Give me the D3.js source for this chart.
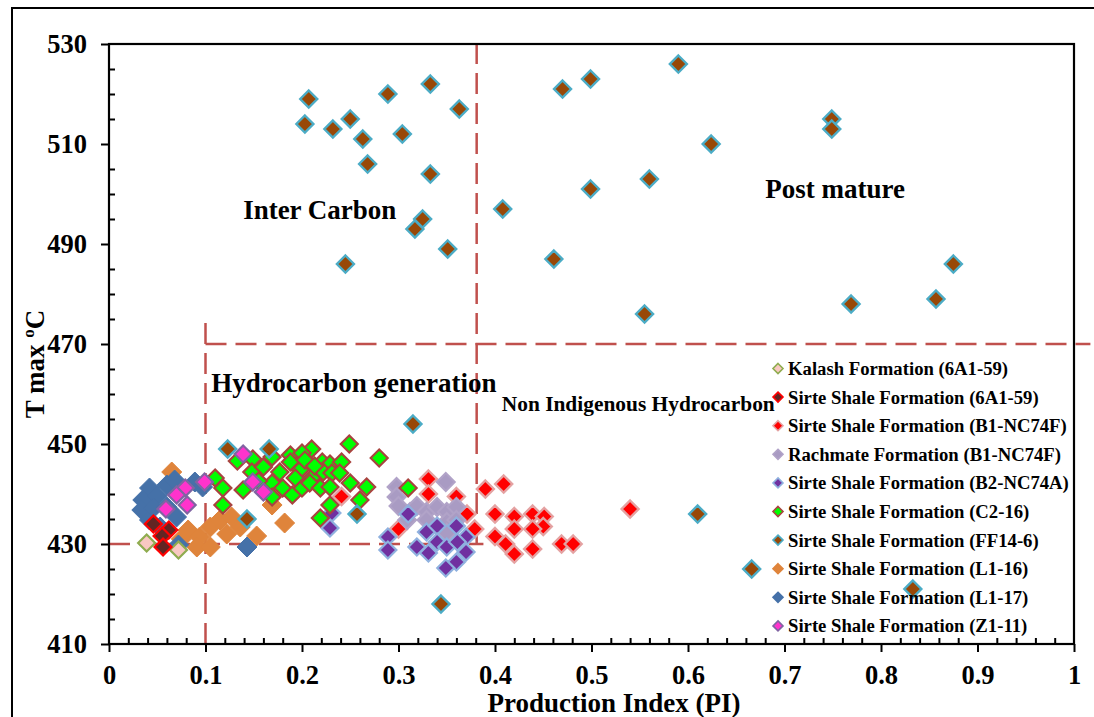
<!DOCTYPE html>
<html>
<head>
<meta charset="utf-8">
<script src="https://cdn.jsdelivr.net/npm/d3@7"></script>
<style>
  html, body { margin: 0; padding: 0; background: #ffffff; }
  svg { display: block; }
  text { font-family: "Liberation Serif", "Times New Roman", serif; font-weight: bold; fill: #000; }
</style>
</head>
<body>
<svg id="chart" width="1094" height="717"></svg>
<script>
// Rock-Eval pyrolysis: Production Index (PI) versus Tmax, by formation and well

// Axis ticks
const xMajorTicks = [0, 0.1, 0.2, 0.3, 0.4, 0.5, 0.6, 0.7, 0.8, 0.9, 1];
const yMajorTicks = [410, 430, 450, 470, 490, 510, 530];

// Samples: [PI, Tmax °C]
const kalash6A1 = [[0.039, 430.2], [0.072, 428.8]];
const sirte6A1 = [[0.046, 434.0], [0.062, 432.8], [0.055, 431.6], [0.056, 429.4]];
const sirteB1 = [
  [0.331, 443], [0.331, 440], [0.360, 439.5], [0.371, 436], [0.300, 433], [0.379, 433],
  [0.390, 441], [0.409, 442], [0.400, 436], [0.420, 435.5], [0.439, 436], [0.451, 435.5],
  [0.450, 433.5], [0.420, 433], [0.439, 433], [0.400, 431.5], [0.411, 430], [0.420, 428],
  [0.439, 429], [0.469, 430], [0.481, 430], [0.241, 439.5], [0.540, 437]
];
const rachmateB1 = [
  [0.349, 442.4], [0.298, 441.4], [0.298, 439.4], [0.300, 437.6], [0.312, 436.4], [0.319, 437.6],
  [0.329, 436.4], [0.340, 437.4], [0.350, 436.4], [0.360, 437.4], [0.329, 434.8], [0.350, 434.4],
  [0.360, 434.8], [0.309, 434.8], [0.350, 432.2]
];
const sirteB2 = [
  [0.310, 436], [0.289, 431.4], [0.289, 428.8], [0.319, 429.4], [0.331, 428.2], [0.329, 432.4],
  [0.340, 433.6], [0.340, 430.4], [0.350, 429.4], [0.360, 433.6], [0.370, 431.4], [0.370, 428.4],
  [0.360, 426.4], [0.349, 425.2], [0.361, 430.4], [0.231, 436.2], [0.229, 433.2]
];
const sirteC2 = [
  [0.249, 450], [0.210, 449], [0.149, 447], [0.169, 447.4], [0.188, 447.8], [0.200, 448.2],
  [0.221, 446.4], [0.229, 446], [0.241, 446.4], [0.148, 444.4], [0.160, 445.4], [0.177, 444.4],
  [0.188, 446.4], [0.198, 444.8], [0.210, 443.2], [0.222, 444.4], [0.231, 444.2], [0.239, 444.2],
  [0.250, 442.2], [0.110, 443.2], [0.118, 441.2], [0.139, 440.8], [0.169, 442.2], [0.180, 441.2],
  [0.190, 439.8], [0.200, 441.2], [0.208, 442.2], [0.219, 441.2], [0.229, 441.4], [0.229, 437.8],
  [0.169, 439.4], [0.118, 437.8], [0.219, 435.2], [0.260, 438.8], [0.267, 441.4], [0.280, 447.2],
  [0.310, 441.2], [0.203, 446.8], [0.213, 445.6], [0.193, 443.2], [0.155, 442.6], [0.133, 446.6]
];
const sirteFF14 = [
  [0.207, 519], [0.203, 514], [0.232, 513], [0.250, 515], [0.263, 511], [0.268, 506],
  [0.289, 520], [0.304, 512], [0.333, 522], [0.363, 517], [0.333, 504], [0.325, 495],
  [0.317, 493], [0.351, 489], [0.245, 486], [0.408, 497], [0.470, 521], [0.499, 523],
  [0.590, 526], [0.624, 510], [0.749, 515], [0.749, 513], [0.499, 501], [0.560, 503],
  [0.461, 487], [0.555, 476], [0.769, 478], [0.857, 479], [0.875, 486], [0.610, 436],
  [0.666, 425], [0.833, 421], [0.315, 454], [0.344, 418], [0.123, 449], [0.166, 449],
  [0.143, 435], [0.257, 436]
];
const sirteL116 = [
  [0.065, 444.4], [0.082, 432.8], [0.094, 431.4], [0.105, 433.4], [0.115, 434.8], [0.127, 435.4],
  [0.136, 433.4], [0.091, 429.4], [0.105, 429.4], [0.153, 431.6], [0.169, 437.8], [0.182, 434.2],
  [0.122, 432.0], [0.075, 431.0]
];
const sirteL117 = [
  [0.042, 441.2], [0.035, 438.8], [0.034, 436.8], [0.050, 439.6], [0.060, 441.8], [0.068, 442.8],
  [0.089, 442.4], [0.042, 434.8], [0.053, 433.4], [0.070, 435.4], [0.072, 429.8], [0.143, 429.4],
  [0.097, 441.4], [0.046, 437.2], [0.060, 437.4]
];
const sirteZ111 = [
  [0.079, 441.2], [0.070, 439.8], [0.081, 437.8], [0.059, 437], [0.099, 442.4], [0.139, 448],
  [0.149, 442.4], [0.160, 440.4]
];

// Legend entries, in legend order
const seriesNames = [
  "Kalash Formation (6A1-59)",
  "Sirte Shale Formation (6A1-59)",
  "Sirte Shale Formation (B1-NC74F)",
  "Rachmate Formation (B1-NC74F)",
  "Sirte Shale Formation (B2-NC74A)",
  "Sirte Shale Formation (C2-16)",
  "Sirte Shale Formation (FF14-6)",
  "Sirte Shale Formation (L1-16)",
  "Sirte Shale Formation (L1-17)",
  "Sirte Shale Formation (Z1-11)"
];
const seriesData = [kalash6A1, sirte6A1, sirteB1, rachmateB1, sirteB2, sirteC2, sirteFF14, sirteL116, sirteL117, sirteZ111];

// Zone boundaries: [x1, y1, x2, y2] in data units
const zoneLines = [
  [0.1, 410, 0.1, 474.5],
  [0.1, 470, 1.017, 470],
  [0, 430, 0.388, 430],
  [0.381, 430, 0.381, 530]
];
const zoneLabels = [
  { text: "Inter Carbon", x: 0.139, y: 495.0, size: 27 },
  { text: "Post mature", x: 0.680, y: 499.2, size: 27 },
  { text: "Hydrocarbon generation", x: 0.106, y: 460.4, size: 27 },
  { text: "Non Indigenous Hydrocarbon", x: 0.407, y: 456.6, size: 21.4 }
];

// Marker styling per series (same order as seriesNames)
const styles = [
  { fill: "#f9c8c2", stroke: "#8fac4f", r: 8.5, sw: 2.2 },
  { fill: "#632523", stroke: "#ff0000", r: 8.5, sw: 2.2 },
  { fill: "#ff0000", stroke: "#e4a2a2", r: 8.5, sw: 2.4 },
  { fill: "#a99bc3", stroke: "#b1a3c8", r: 9, sw: 2 },
  { fill: "#7030a0", stroke: "#8fb1df", r: 8.5, sw: 2.2 },
  { fill: "#00ff00", stroke: "#a8443f", r: 8.5, sw: 2.2 },
  { fill: "#984807", stroke: "#4bacc6", r: 8.5, sw: 2.4 },
  { fill: "#df843b", stroke: "#df843b", r: 10, sw: 1 },
  { fill: "#4571a8", stroke: "#4571a8", r: 10, sw: 1 },
  { fill: "#ff33cc", stroke: "#8064a2", r: 8.5, sw: 2.2 }
];
// Drawing order: the two L1 wells sit underneath the rest
const drawOrder = [7, 8, 0, 1, 2, 3, 4, 5, 6, 9];

const svg = d3.select("#chart");
const x = d3.scaleLinear().domain([0, 1]).range([109, 1074]);
const y = d3.scaleLinear().domain([410, 530]).range([644, 44]);

const diamond = r => `M0,${-r}L${r},0L0,${r}L${-r},0Z`;

// Outer chart frame
svg.append("rect")
  .attr("x", 12).attr("y", 8).attr("width", 1200).attr("height", 800)
  .attr("fill", "none").attr("stroke", "#000").attr("stroke-width", 2);

// Zone boundary lines
svg.append("g").selectAll("line").data(zoneLines).join("line")
  .attr("x1", d => x(d[0])).attr("y1", d => y(d[1]))
  .attr("x2", d => x(d[2])).attr("y2", d => y(d[3]))
  .attr("stroke", "#c0504d").attr("stroke-width", 2.5)
  .attr("stroke-dasharray", "21,9");

// Zone labels
svg.append("g").selectAll("text").data(zoneLabels).join("text")
  .attr("x", d => x(d.x)).attr("y", d => y(d.y))
  .attr("font-size", d => d.size)
  .text(d => d.text);

// Data points
const pts = svg.append("g");
drawOrder.forEach(i => {
  const s = styles[i];
  pts.append("g").selectAll("path").data(seriesData[i]).join("path")
    .attr("d", diamond(s.r))
    .attr("transform", d => `translate(${x(d[0])},${y(d[1])})`)
    .attr("fill", s.fill).attr("stroke", s.stroke).attr("stroke-width", s.sw);
});

// Axes
const minorX = d3.range(0, 51).map(i => i / 50).filter(v => Math.round(v * 50) % 5 !== 0);
const minorY = d3.range(410, 531, 5).filter(v => (v - 410) % 20 !== 0);

svg.append("g").attr("transform", "translate(0,644)")
  .call(d3.axisBottom(x).tickValues(xMajorTicks).tickSize(8).tickSizeOuter(0).tickPadding(13)
    .tickFormat(d => d === 0 ? "0" : d === 1 ? "1" : d.toFixed(1)));
svg.append("g").attr("transform", "translate(0,644)")
  .call(d3.axisTop(x).tickValues(minorX).tickSize(6).tickSizeOuter(0).tickFormat(""));

svg.append("g").attr("transform", "translate(109,0)")
  .call(d3.axisLeft(y).tickValues(yMajorTicks).tickSize(8).tickSizeOuter(0).tickPadding(14));
svg.append("g").attr("transform", "translate(109,0)")
  .call(d3.axisRight(y).tickValues(minorY).tickSize(6).tickSizeOuter(0).tickFormat(""));

svg.selectAll(".domain").remove();
svg.selectAll(".tick line").attr("stroke", "#000").attr("stroke-width", 2);
svg.selectAll(".tick text")
  .attr("font-family", "'Liberation Serif', 'Times New Roman', serif")
  .attr("font-weight", "bold").attr("font-size", 26.5).attr("fill", "#000");

// Plot area border
svg.append("rect")
  .attr("x", x(0)).attr("y", y(530))
  .attr("width", x(1) - x(0)).attr("height", y(410) - y(530))
  .attr("fill", "none").attr("stroke", "#000").attr("stroke-width", 2.2);

// Axis titles
svg.append("text")
  .attr("x", 614).attr("y", 712)
  .attr("text-anchor", "middle").attr("font-size", 27)
  .text("Production Index (PI)");

const yTitle = svg.append("text")
  .attr("transform", "translate(44,364) rotate(-90)")
  .attr("text-anchor", "middle").attr("font-size", 27);
yTitle.append("tspan").text("T max ");
yTitle.append("tspan").attr("font-size", 17).attr("dy", -10).text("o");
yTitle.append("tspan").attr("dy", 10).text("C");

// Legend
const legend = svg.append("g");
seriesNames.forEach((name, i) => {
  const s = styles[i];
  const cy = 368.5 + i * 28.6;
  legend.append("path")
    .attr("d", diamond(5))
    .attr("transform", `translate(778,${cy})`)
    .attr("fill", s.fill).attr("stroke", s.stroke).attr("stroke-width", 1.6);
  legend.append("text")
    .attr("x", 788).attr("y", cy + 6.5)
    .attr("font-size", 18.7)
    .text(name);
});
</script>
</body>
</html>
